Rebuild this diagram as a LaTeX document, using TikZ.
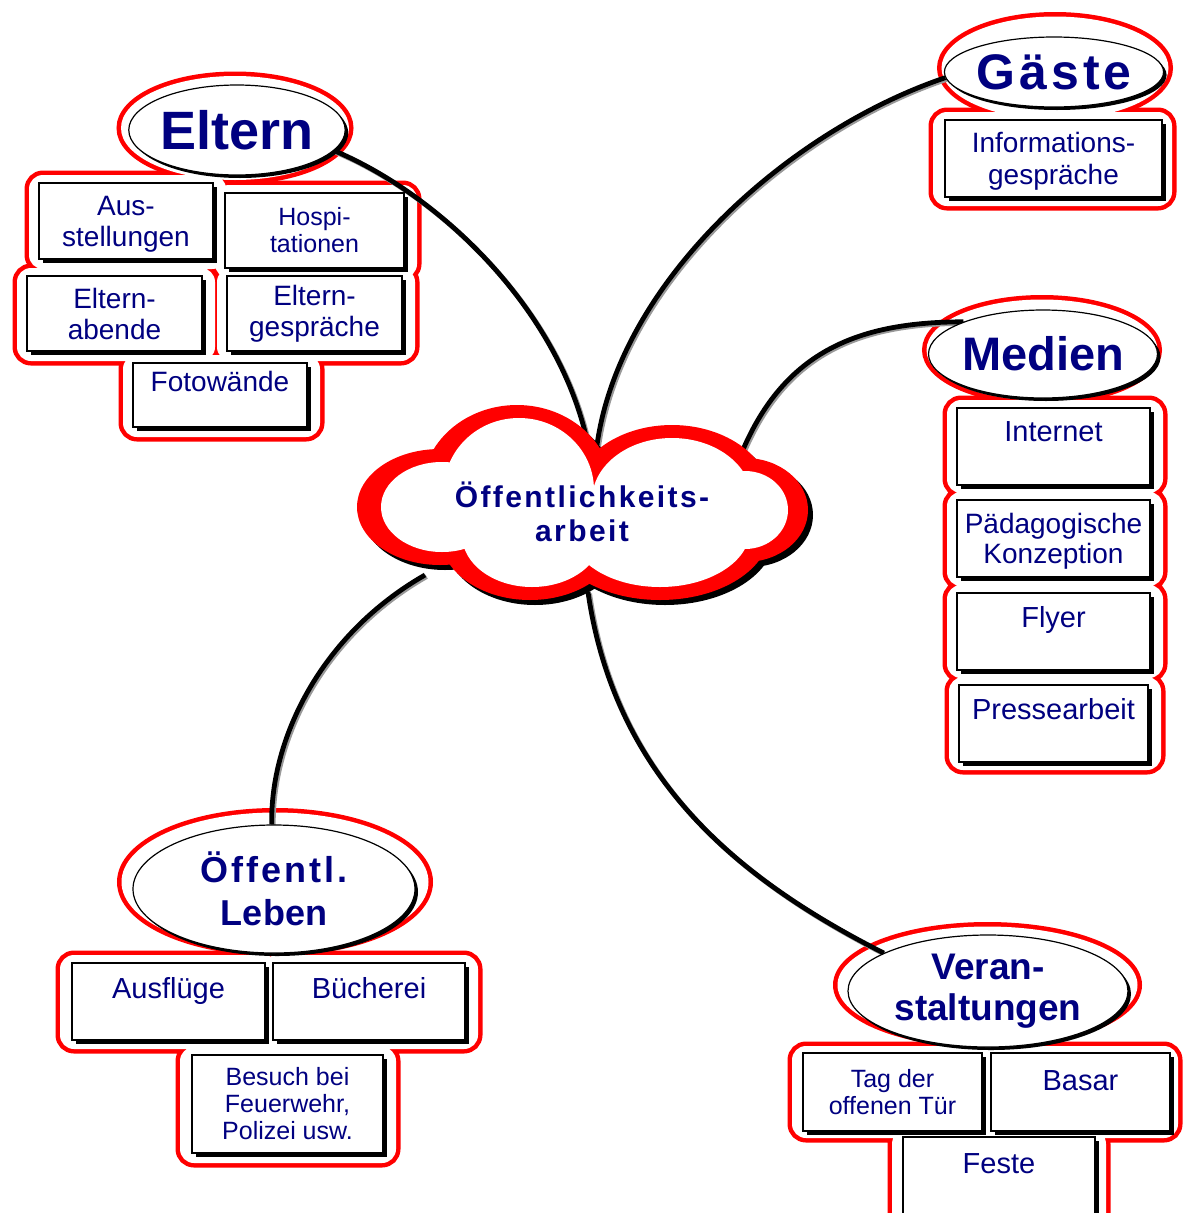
\documentclass[tikz,border=0pt]{standalone}
\usepackage{fontspec}
\setmainfont{Liberation Sans}
\newfontfamily\lsfont[LetterSpace=8]{Liberation Sans}
\usetikzlibrary{shapes.geometric,shadows}
\definecolor{navy}{RGB}{0,0,128}
\definecolor{rred}{RGB}{255,0,0}
\pgfdeclarelayer{bg}
\pgfdeclarelayer{conn}
\pgfsetlayers{bg,conn,main}
\newcommand\fs[2]{\fontsize{#1}{#2}\selectfont}
\newcommand\redgroup[2]{\draw[redline]#1;\draw[redline,rounded corners=14pt]#2;\fill[white]#1;\fill[white,rounded corners=14pt]#2;}
\newcommand\link[1]{\begin{scope}[transform canvas={shift={(1.6pt,-1.6pt)}}]\draw[connsh]#1;\end{scope}\draw[connline]#1;}
\begin{document}
\begin{tikzpicture}[x=1pt,y=-1pt,
  redline/.style={draw=rred,line width=9pt},
  head/.style={ellipse,draw=black,line width=1.2pt,fill=white,inner sep=0pt,text=navy,align=center,
     drop shadow={fill=black,opacity=1,shadow xshift=3pt,shadow yshift=-3pt}},
  box/.style={rectangle,draw=black,line width=1.4pt,fill=white,inner sep=0pt,text=navy,align=center,
     drop shadow={fill=black,opacity=1,shadow xshift=4pt,shadow yshift=-4pt}},
  toptxt/.style={anchor=north,inner sep=0pt,text=navy,text height=21pt,text depth=0pt,font=\fs{29}{32}},
  connline/.style={draw=black,line width=4.8pt},
  connsh/.style={draw=black!40,line width=4.8pt}
]
\useasboundingbox (0,0) rectangle (1183,1213);
\begin{pgfonlayer}{bg}
\fill[white] (0,0) rectangle (1183,1213);
% Eltern
\redgroup{(235,128) ellipse [x radius=114, y radius=52]}
 {(29,175) rectangle (226,269) (215,185) rectangle (417,278) (17,268) rectangle (215,361) (217,268) rectangle (415,361) (123,355) rectangle (320,437)}
% Gaeste
\redgroup{(1055,68) ellipse [x radius=113.5, y radius=51.5]}
 {(933,112) rectangle (1172,206)}
% Medien
\redgroup{(1042,350) ellipse [x radius=115.5, y radius=50.5]}
 {(947,400) rectangle (1163,493) (947,492) rectangle (1163,586) (947,585) rectangle (1163,678) (949,677) rectangle (1161,770)}
% Oeffentl. Leben
\redgroup{(275,882) ellipse [x radius=153.5, y radius=69.5]}
 {(60,955) rectangle (278,1049) (263,955) rectangle (478,1049) (180,1047) rectangle (396,1163)}
% Veranstaltungen
\redgroup{(987.5,985) ellipse [x radius=150, y radius=58.5]}
 {(792,1046) rectangle (990,1138) (980,1046) rectangle (1178,1138) (892,1130) rectangle (1106,1260)}
\end{pgfonlayer}

% cloud
\fill[black,shift={(5,5)}] (440,507) ellipse [x radius=83,y radius=58] (517,490) ellipse [x radius=95,y radius=85]
  (672,500) ellipse [x radius=100,y radius=75] (745,510) ellipse [x radius=63,y radius=52]
  (530,535) ellipse [x radius=90,y radius=65] (660,530) ellipse [x radius=110,y radius=70];
\fill[rred] (440,507) ellipse [x radius=83,y radius=58] (517,490) ellipse [x radius=95,y radius=85]
  (672,500) ellipse [x radius=100,y radius=75] (745,510) ellipse [x radius=63,y radius=52]
  (530,535) ellipse [x radius=90,y radius=65] (660,530) ellipse [x radius=110,y radius=70];
\fill[white] (442,507) ellipse [x radius=61,y radius=45] (519,490) ellipse [x radius=75,y radius=72]
  (672,500) ellipse [x radius=80,y radius=62] (745,510) ellipse [x radius=43,y radius=39]
  (532,535) ellipse [x radius=70,y radius=52] (660,530) ellipse [x radius=90,y radius=57];
\node[text=navy,font=\lsfont\bfseries\fs{30}{34},align=center] (cloud) at (582,512) {Öffentlichkeits-\\arbeit};
\coordinate (c-elt) at (588,445);
\coordinate (c-gae) at (597,445);
\coordinate (c-med) at (742,452);
\coordinate (c-oef) at (425,575);
\coordinate (c-ver) at (588,592);

% headings
\node[head,minimum width=208pt,minimum height=90pt,font=\bfseries\fs{54}{60}] (elt) at (237,130) {Eltern};
\node[head,minimum width=205pt,minimum height=70pt,font=\lsfont\bfseries\fs{50}{56}] (gae) at (1054,72) {Gäste};
\node[head,minimum width=206pt,minimum height=88pt,font=\bfseries\fs{47}{52}] (med) at (1043,354) {Medien};
\node[head,minimum width=282pt,minimum height=128pt,font=\bfseries\fs{36}{43}] (oef) at (274,889) {{\lsfont Öffentl.}\\Leben};
\node[head,minimum width=280pt,minimum height=112pt,font=\bfseries\fs{37}{41}] (ver) at (988,991) {Veran-\\staltungen};

% Eltern boxes
\node[box,minimum width=174pt,minimum height=76pt,font=\fs{28}{31}] (b-aus) at (126,221) {Aus-\\\smash{stellungen}};
\node[box,minimum width=179pt,minimum height=75pt,font=\fs{25}{27}] (b-hos) at (314.5,230.5) {Hospi-\\tationen};
\node[box,minimum width=175pt,minimum height=75pt,font=\fs{28}{31}] (b-abe) at (114.5,313.5) {Eltern-\\abende};
\node[box,minimum width=175pt,minimum height=75pt,font=\fs{28}{31}] (b-ges) at (314.5,313.5) {Eltern-\\gespräche};
\node[box,minimum width=174pt,minimum height=64pt] (b-fot) at (220,395) {};
\node[toptxt,font=\fs{28}{31},text height=20pt] (t-fot) at ([yshift=-9pt]b-fot.north) {Fotowände};
% Gaeste box
\node[box,minimum width=217pt,minimum height=77pt,font=\fs{28}{32}] (b-inf) at (1053.5,158.5) {Informations-\\\smash{gespräche}};
% Medien boxes
\node[box,minimum width=193pt,minimum height=77pt] (b-int) at (1053.5,446.5) {};
\node[toptxt] (t-int) at ([yshift=-13pt]b-int.north) {Internet};
\node[box,minimum width=193pt,minimum height=77pt,font=\fs{28}{30}] (b-pae) at (1053.5,538.5) {Pädagogische\\\smash{Konzeption}};
\node[box,minimum width=193pt,minimum height=77pt] (b-fly) at (1053.5,631.5) {};
\node[toptxt] (t-fly) at ([yshift=-14pt]b-fly.north) {Flyer};
\node[box,minimum width=189pt,minimum height=77pt] (b-pre) at (1053.5,723.5) {};
\node[toptxt] (t-pre) at ([yshift=-14pt]b-pre.north) {Pressearbeit};
% Oeffentl. Leben boxes
\node[box,minimum width=193pt,minimum height=77pt] (b-afl) at (168.5,1001.5) {};
\node[toptxt] (t-afl) at ([yshift=-15pt]b-afl.north) {Ausflüge};
\node[box,minimum width=192pt,minimum height=77pt] (b-bue) at (369,1001.5) {};
\node[toptxt] (t-bue) at ([yshift=-15pt]b-bue.north) {Bücherei};
\node[box,minimum width=191pt,minimum height=98pt,font=\fs{25}{27}] (b-bes) at (287.5,1104) {Besuch bei\\Feuerwehr,\\Polizei usw.};
% Veranstaltungen boxes
\node[box,minimum width=179pt,minimum height=78pt,font=\fs{25}{27}] (b-tag) at (892.5,1092) {Tag der\\offenen Tür};
\node[box,minimum width=179pt,minimum height=78pt] (b-bas) at (1080.5,1092) {};
\node[toptxt] (t-bas) at ([yshift=-17pt]b-bas.north) {Basar};
\node[box,minimum width=192pt,minimum height=103pt] (b-fes) at (999,1188.5) {};
\node[toptxt] (t-fes) at ([yshift=-16pt]b-fes.north) {Feste};

% connectors
\begin{pgfonlayer}{conn}
\link{(elt.-12) .. controls (440,195) and (560,310) .. (c-elt)}
\link{(c-gae) .. controls (620,280) and (790,130) .. (gae.183)}
\link{(c-med) .. controls (785,350) and (860,322) .. (med.158)}
\link{(c-oef) .. controls (320,635) and (270,740) .. (oef.92)}
\link{(c-ver) .. controls (615,780) and (740,880) .. (ver.160)}
\end{pgfonlayer}
\end{tikzpicture}
\end{document}
